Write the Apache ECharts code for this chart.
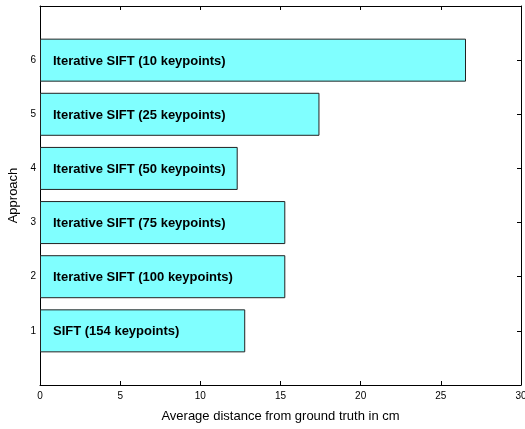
<!DOCTYPE html>
<html>
<head>
<meta charset="utf-8">
<script src="https://cdn.jsdelivr.net/npm/echarts@6/dist/echarts.min.js"></script>
<style>html,body{margin:0;padding:0;background:#fff;}#c{width:525px;height:429px;}</style>
</head>
<body>
<div id="c"></div>
<script>
const categories = ['1', '2', '3', '4', '5', '6'];
const barLabels = [
  'SIFT (154 keypoints)',
  'Iterative SIFT (100 keypoints)',
  'Iterative SIFT (75 keypoints)',
  'Iterative SIFT (50 keypoints)',
  'Iterative SIFT (25 keypoints)',
  'Iterative SIFT (10 keypoints)'
];
const distances = [12.8, 15.3, 15.3, 12.33, 17.43, 26.57];
const xTicks = [0, 5, 10, 15, 20, 25, 30];

const axisCats = [''].concat(categories).concat(['']);
const seriesData = distances.map((v, i) => ({ value: [v, i + 1], name: barLabels[i] }));

const font = 'Liberation Sans, Arial, sans-serif';
const chart = echarts.init(document.getElementById('c'));
chart.setOption({
  animation: false,
  grid: { left: 40, right: 4, top: 6, bottom: 44, containLabel: false, outerBoundsMode: 'none' },
  xAxis: [{
    type: 'value', min: xTicks[0], max: xTicks[xTicks.length - 1], interval: 5,
    name: 'Average distance from ground truth in cm', nameLocation: 'middle', nameGap: 25,
    nameTextStyle: { fontFamily: font, fontSize: 13, color: '#000' },
    axisLine: { show: true, onZero: false, lineStyle: { color: '#000', width: 1 } },
    axisTick: { show: true, inside: true, length: 4, lineStyle: { color: '#000' } },
    axisLabel: { fontFamily: font, fontSize: 10, color: '#000', margin: 6, hideOverlap: false, showMaxLabel: true, showMinLabel: true },
    splitLine: { show: false }
  }, {
    type: 'value', position: 'top', min: xTicks[0], max: xTicks[xTicks.length - 1], interval: 5,
    axisLine: { show: true, onZero: false, lineStyle: { color: '#000', width: 1 } },
    axisTick: { show: true, inside: true, length: 4, lineStyle: { color: '#000' } },
    axisLabel: { show: false }, splitLine: { show: false }
  }],
  yAxis: [{
    type: 'category', data: axisCats, boundaryGap: false,
    name: 'Approach', nameLocation: 'middle', nameGap: 20,
    nameTextStyle: { fontFamily: font, fontSize: 13, color: '#000' },
    axisLine: { show: true, onZero: false, lineStyle: { color: '#000', width: 1 } },
    axisTick: { show: false },
    axisLabel: { fontFamily: font, fontSize: 10, color: '#000', margin: 4 },
    splitLine: { show: false }
  }, {
    type: 'category', data: axisCats, boundaryGap: false, position: 'right',
    axisLine: { show: true, onZero: false, lineStyle: { color: '#000', width: 1 } },
    axisTick: { show: true, inside: true, length: 4, lineStyle: { color: '#000' } },
    axisLabel: { show: false }, splitLine: { show: false }
  }],
  series: [{
    type: 'bar', xAxisIndex: 0, yAxisIndex: 0,
    encode: { x: 0, y: 1 },
    data: seriesData,
    barWidth: 43,
    itemStyle: { color: '#80ffff', borderColor: '#222', borderWidth: 1 },
    label: {
      show: true, position: 'insideLeft', distance: 13, offset: [0, 1],
      formatter: p => p.name,
      fontFamily: font, fontSize: 13, fontWeight: 'bold', color: '#000'
    }
  }]
});
</script>
</body>
</html>
